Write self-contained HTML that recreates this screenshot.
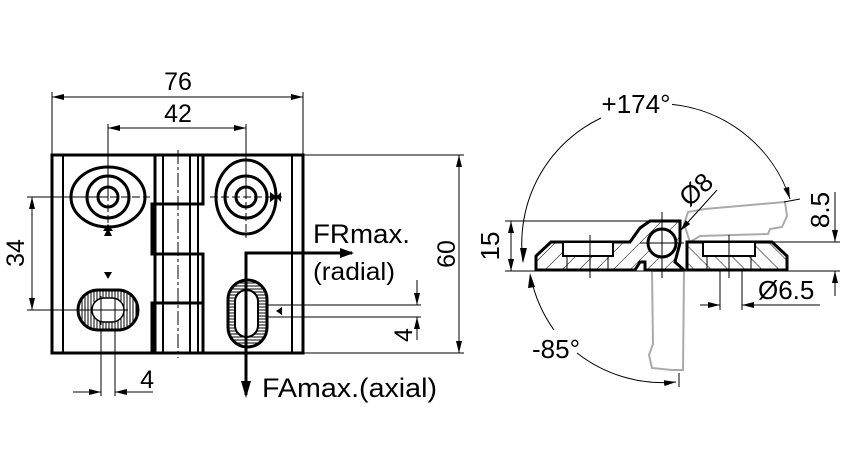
<!DOCTYPE html>
<html><head><meta charset="utf-8"><style>
html,body{margin:0;padding:0;background:#fff}
svg{display:block}
text{font-family:"Liberation Sans","DejaVu Sans",sans-serif;fill:#000}
</style></head><body>
<svg width="851" height="472" viewBox="0 0 851 472" xmlns="http://www.w3.org/2000/svg">
<defs>
<pattern id="vh" width="3" height="3" patternUnits="userSpaceOnUse"><rect width="3" height="3" fill="#fff"/><line x1="1" y1="0" x2="1" y2="3" stroke="#000" stroke-width="1"/></pattern>
<pattern id="hh" width="3" height="3" patternUnits="userSpaceOnUse"><rect width="3" height="3" fill="#fff"/><line x1="0" y1="1" x2="3" y2="1" stroke="#000" stroke-width="1"/></pattern>
<pattern id="dh" width="12" height="12" patternUnits="userSpaceOnUse" patternTransform="rotate(45)"><rect width="12" height="12" fill="#fff"/><line x1="0" y1="0" x2="0" y2="12" stroke="#000" stroke-width="1"/></pattern>
<pattern id="dh2" width="12" height="12" patternUnits="userSpaceOnUse" patternTransform="rotate(-45)"><rect width="12" height="12" fill="#fff"/><line x1="0" y1="0" x2="0" y2="12" stroke="#000" stroke-width="1"/></pattern>
<marker id="a" markerWidth="12" markerHeight="6" refX="12" refY="3" orient="auto" markerUnits="userSpaceOnUse"><path d="M0,0 L12,3 L0,6 z" fill="#000"/></marker>
<marker id="as" markerWidth="12" markerHeight="6" refX="0" refY="3" orient="auto" markerUnits="userSpaceOnUse"><path d="M12,0 L0,3 L12,6 z" fill="#000"/></marker>
</defs>

<g fill="none" stroke="#000" stroke-width="1">
<line x1="52" y1="92" x2="52" y2="155"/><line x1="303" y1="92" x2="303" y2="155"/>
<line x1="52" y1="97" x2="303" y2="97" marker-start="url(#as)" marker-end="url(#a)"/>
<line x1="108" y1="124" x2="108" y2="197"/><line x1="246" y1="124" x2="246" y2="197"/>
<line x1="108" y1="128" x2="246" y2="128" marker-start="url(#as)" marker-end="url(#a)"/>
<line x1="27" y1="197" x2="108" y2="197"/><line x1="27" y1="310" x2="80" y2="310"/>
<line x1="32" y1="197" x2="32" y2="310" marker-start="url(#as)" marker-end="url(#a)"/>
<line x1="303" y1="155" x2="464" y2="155"/><line x1="303" y1="353" x2="464" y2="353"/>
<line x1="459" y1="155" x2="459" y2="353" marker-start="url(#as)" marker-end="url(#a)"/>
<line x1="101" y1="315" x2="101" y2="396"/><line x1="115" y1="315" x2="115" y2="396"/>
<line x1="73" y1="392" x2="101" y2="392" marker-end="url(#a)"/>
<line x1="115" y1="392" x2="153" y2="392" marker-start="url(#as)"/>
<line x1="268" y1="305" x2="421" y2="305"/><line x1="268" y1="317" x2="421" y2="317"/>
<line x1="417" y1="280" x2="417" y2="305" marker-end="url(#a)"/>
<line x1="417" y1="317" x2="417" y2="340" marker-start="url(#as)"/>
</g>
<g font-size="25">
<text x="178" y="90" text-anchor="middle">76</text>
<text x="178" y="122" text-anchor="middle">42</text>
<text x="154" y="388" text-anchor="end">4</text>
<text transform="translate(24,253) rotate(-90)" text-anchor="middle">34</text>
<text transform="translate(455,254) rotate(-90)" text-anchor="middle">60</text>
<text transform="translate(412,335) rotate(-90)" text-anchor="middle">4</text>
</g>

<g fill="none" stroke="#000" stroke-width="3">
<rect x="52" y="155" width="251" height="198"/>
<line x1="155" y1="155" x2="155" y2="353"/>
<path d="M155,204 H152 V254 H203 V303 H152 V353"/>
<path d="M203,155 V204 H155"/>
<line x1="155" y1="254" x2="152" y2="254"/>
<line x1="203" y1="303" x2="203" y2="353"/>
</g>
<g stroke="#000" stroke-width="2" fill="none">
<line x1="63" y1="155" x2="63" y2="353"/><line x1="292" y1="155" x2="292" y2="353"/>
<line x1="163" y1="155" x2="163" y2="353"/><line x1="190" y1="155" x2="190" y2="353"/><line x1="198" y1="155" x2="198" y2="353"/>
</g>
<line x1="178" y1="150" x2="178" y2="358" stroke="#000" stroke-width="1" stroke-dasharray="14,3,3,3"/>

<g fill="none" stroke="#000" stroke-width="3">
<ellipse cx="108" cy="197" rx="37" ry="30"/>
<circle cx="108" cy="197" r="21"/><circle cx="108" cy="197" r="10"/>
<ellipse cx="246" cy="197" rx="30" ry="37"/>
<circle cx="246" cy="197" r="21"/><circle cx="246" cy="197" r="10"/>
</g>
<g stroke="#000" stroke-width="1" stroke-dasharray="8,3">
<line x1="66" y1="197" x2="150" y2="197"/><line x1="108" y1="160" x2="108" y2="232"/>
<line x1="210" y1="197" x2="282" y2="197"/><line x1="246" y1="158" x2="246" y2="238"/>
</g>
<path d="M103,231 L113,231 L108,224 Z M104,236 L112,236 L108,228 Z" fill="#000"/>
<path d="M270,192 L270,202 L277,197 Z M281,192 L281,202 L276,197 Z" fill="#000"/>
<path d="M104,272 L112,272 L108,279 Z" fill="#000"/>
<path d="M282,315 L282,307 L276,311 Z" fill="#000"/>

<rect x="78" y="290" width="60" height="40" rx="20" fill="url(#vh)" stroke="#000" stroke-width="3"/>
<rect x="92" y="298" width="32" height="24" rx="12" fill="#fff" stroke="#000" stroke-width="1.5"/>
<g stroke="#000" stroke-width="1"><line x1="70" y1="310" x2="128" y2="310"/><line x1="101" y1="296" x2="101" y2="325"/><line x1="115" y1="296" x2="115" y2="325"/></g>

<rect x="228" y="280" width="39" height="67" rx="19.5" fill="url(#hh)" stroke="#000" stroke-width="3"/>
<rect x="235" y="290" width="23" height="47" rx="11.5" fill="#fff" stroke="#000" stroke-width="2"/>

<path d="M352,253 H246 V395" stroke="#000" stroke-width="3" fill="none"/>
<path d="M340,248 L354,253 L340,258 Z" fill="#000"/>
<path d="M241,381 L246,398 L251,381 Z" fill="#000"/>
<text x="313" y="243" font-size="27" textLength="97" lengthAdjust="spacingAndGlyphs">FRmax.</text>
<text x="313" y="280" font-size="25" textLength="82" lengthAdjust="spacingAndGlyphs">(radial)</text>
<text x="262" y="397" font-size="27" textLength="175" lengthAdjust="spacingAndGlyphs">FAmax.(axial)</text>

<g fill="#fff" stroke="#aaa" stroke-width="2">
<path d="M684,224 L688,212 L705,209 L785,202 L787,216 L782,227 L770,229 L768,234 L700,236 L690,242 Z"/>
<path d="M652,271 L684,271 L683,370 L672,370 L652,368 L649,355 L653,344 Z"/>
</g>
<g stroke="#000" stroke-width="1" fill="none">
<line x1="505" y1="221" x2="660" y2="221"/>
<line x1="505" y1="271" x2="840" y2="271"/>
<line x1="700" y1="242" x2="840" y2="242"/>
<line x1="511" y1="221" x2="511" y2="271" marker-start="url(#as)" marker-end="url(#a)"/>
<line x1="835" y1="192" x2="835" y2="242" marker-end="url(#a)"/>
<line x1="835" y1="271" x2="835" y2="296" marker-start="url(#as)"/>
<line x1="720" y1="245" x2="720" y2="310"/><line x1="742" y1="245" x2="742" y2="310"/>
<line x1="700" y1="305" x2="720" y2="305" marker-end="url(#a)"/>
<line x1="742" y1="305" x2="820" y2="305" marker-start="url(#as)"/>
<line x1="717" y1="190" x2="680" y2="231" marker-end="url(#a)"/>
<line x1="784" y1="202" x2="800" y2="199"/>
<path d="M523,262 A139,139 0 0 1 601,118"/>
<path d="M672,104.4 A139,139 0 0 1 790,199" marker-end="url(#a)"/>
<path d="M531,278 A139,139 0 0 0 554,330"/>
<path d="M577,353 A139,139 0 0 0 676,382" marker-end="url(#a)"/>
<line x1="679" y1="373" x2="679" y2="387"/>
</g>
<path d="M520,248 L527,248 L523,263 Z" fill="#000"/>
<path d="M530,273 L535,287 L528,288 Z" fill="#000"/>

<g stroke="#000" stroke-width="3">
<path d="M536,270 V256 L551,242 H630 L640,228 L650,221 H680 V243 L675,262 L684,270 H645 V262 H640 L635,270 Z" fill="url(#dh)"/>
<path d="M687,270 V242 H772 L787,256 V270 Z" fill="url(#dh2)"/>
</g>
<g stroke="#000" stroke-width="2" fill="#fff">
<rect x="563" y="242" width="50" height="14"/>
<rect x="703" y="242" width="52" height="14"/>
</g>
<g stroke="#000" stroke-width="1" fill="none">
<line x1="567" y1="256" x2="567" y2="270"/><line x1="608" y1="256" x2="608" y2="270"/>
<line x1="707" y1="256" x2="707" y2="270"/><line x1="751" y1="256" x2="751" y2="270"/>
<line x1="590" y1="235" x2="590" y2="278"/><line x1="729" y1="235" x2="729" y2="278"/>
</g>
<circle cx="662" cy="243" r="14" fill="#fff" stroke="#000" stroke-width="3"/>
<g stroke="#000" stroke-width="1"><line x1="662" y1="212" x2="662" y2="278"/><line x1="640" y1="243" x2="684" y2="243"/></g>

<g font-size="26">
<text x="636" y="113" text-anchor="middle">+174°</text>
<text x="556" y="358" text-anchor="middle">-85°</text>
<text x="758" y="299">Ø6.5</text>
<text transform="translate(702,196) rotate(-42)" text-anchor="middle">Ø8</text>
<text transform="translate(499,246) rotate(-90)" text-anchor="middle">15</text>
<text transform="translate(829,210) rotate(-90)" text-anchor="middle">8.5</text>
</g>
</svg>
</body></html>
